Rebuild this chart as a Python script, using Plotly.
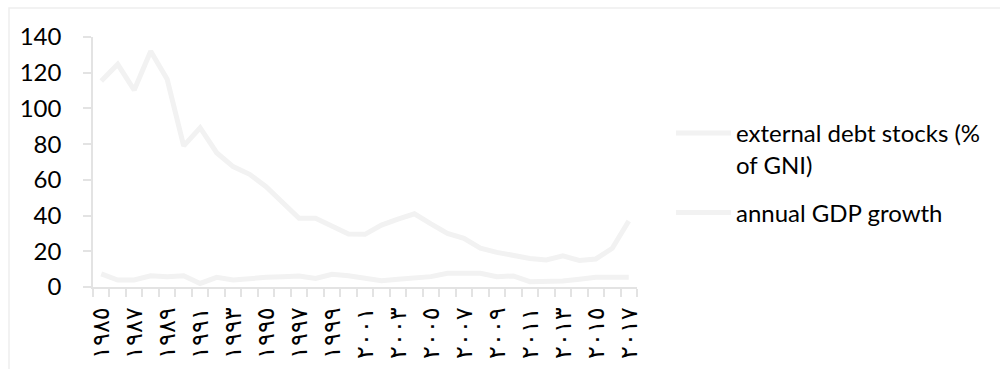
import plotly.graph_objects as go

# Years covered by the two series
years = list(range(1985, 2018))

# External debt stocks, % of GNI
debt_pct_gni = [115.3, 124.7, 110.3, 132.0, 116.3, 79.0, 89.2, 75.2, 67.4, 63.1,
                56.2, 46.9, 38.5, 38.5, 34.2, 29.7, 29.5, 34.7, 38.0, 41.0,
                35.3, 30.0, 27.3, 21.7, 19.4, 17.7, 16.0, 15.1, 17.4, 14.9,
                15.7, 21.7, 37.0]

# Annual GDP growth, %
gdp_growth = [7.3, 3.9, 3.9, 6.3, 5.8, 6.3, 2.0, 5.4, 3.9, 4.8,
              5.4, 5.8, 6.2, 4.8, 7.1, 6.3, 4.8, 3.5, 4.3, 5.4,
              5.8, 7.7, 7.7, 7.7, 5.8, 6.2, 3.0, 3.0, 3.3, 4.3,
              5.4, 5.4, 5.4]

# Axis labels (every other year, Arabic-Indic digits)
label_years = years[::2]
label_text = ["١٩٨٥", "١٩٨٧", "١٩٨٩", "١٩٩١", "١٩٩٣", "١٩٩٥", "١٩٩٧", "١٩٩٩",
              "٢٠٠١", "٢٠٠٣", "٢٠٠٥", "٢٠٠٧", "٢٠٠٩", "٢٠١١", "٢٠١٣", "٢٠١٥", "٢٠١٧"]
y_ticks = [0, 20, 40, 60, 80, 100, 120, 140]

series_names = ["external debt stocks (%<br>of GNI)", "annual GDP growth"]

LINE = "#f2f2f2"
AXIS = "#e3e3e3"
FONT = "Lato"

fig = go.Figure()
fig.add_trace(go.Scatter(x=years, y=debt_pct_gni, mode="lines", name=series_names[0],
                         legendgroup="debt", line=dict(color=LINE, width=5)))
fig.add_trace(go.Scatter(x=years, y=gdp_growth, mode="lines", name=series_names[1],
                         legendgroup="gdp", line=dict(color=LINE, width=5)))

L, R, T, B = 93, 363, 37, 82
W, H = 1000, 369
pw, ph = W - L - R, H - T - B

# chart-area frame
fig.add_shape(type="rect", xref="paper", yref="paper",
              x0=(9 - L) / pw, x1=(W + 5 - L) / pw,
              y0=(H - B - (H + 5)) / ph, y1=(H - B - 8) / ph,
              line=dict(color="#eeeeee", width=1.5), fillcolor="rgba(0,0,0,0)", layer="below")

fig.update_layout(
    width=W, height=H,
    margin=dict(l=L, r=R, t=T, b=B, pad=0, autoexpand=False),
    paper_bgcolor="white", plot_bgcolor="white",
    font=dict(family=FONT, size=24, color="#000000"),
    showlegend=True,
    legend=dict(x=(671 - L) / pw, xanchor="left", y=(H - B - 111) / ph, yanchor="top",
                itemwidth=55, valign="top", traceorder="grouped", tracegroupgap=14,
                font=dict(family=FONT, size=24, color="#000000"),
                bgcolor="rgba(0,0,0,0)"),
    xaxis=dict(
        range=[years[0] - 0.5, years[-1] + 0.5], automargin=False,
        tickmode="array", tickvals=label_years, ticktext=label_text,
        tickangle=-90, ticks="", showgrid=False, zeroline=False,
        showline=True, linecolor=AXIS, linewidth=1.5,
        tickfont=dict(family="DejaVu Sans", size=24, color="#000000"),
        ticklabelstandoff=9,
        minor=dict(tickmode="linear", tick0=years[0] - 0.5, dtick=1,
                   ticks="outside", ticklen=8, tickcolor=AXIS, tickwidth=1.5,
                   showgrid=False),
    ),
    yaxis=dict(
        range=[0, 140], tickmode="array", tickvals=y_ticks, automargin=False,
        ticks="outside", ticklen=8, tickcolor=AXIS, tickwidth=1.5,
        showline=True, linecolor=AXIS, linewidth=1.5,
        showgrid=False, zeroline=False,
        tickfont=dict(family=FONT, size=24, color="#000000"),
        ticklabelstandoff=17,
    ),
)

fig.write_html("out.html")
